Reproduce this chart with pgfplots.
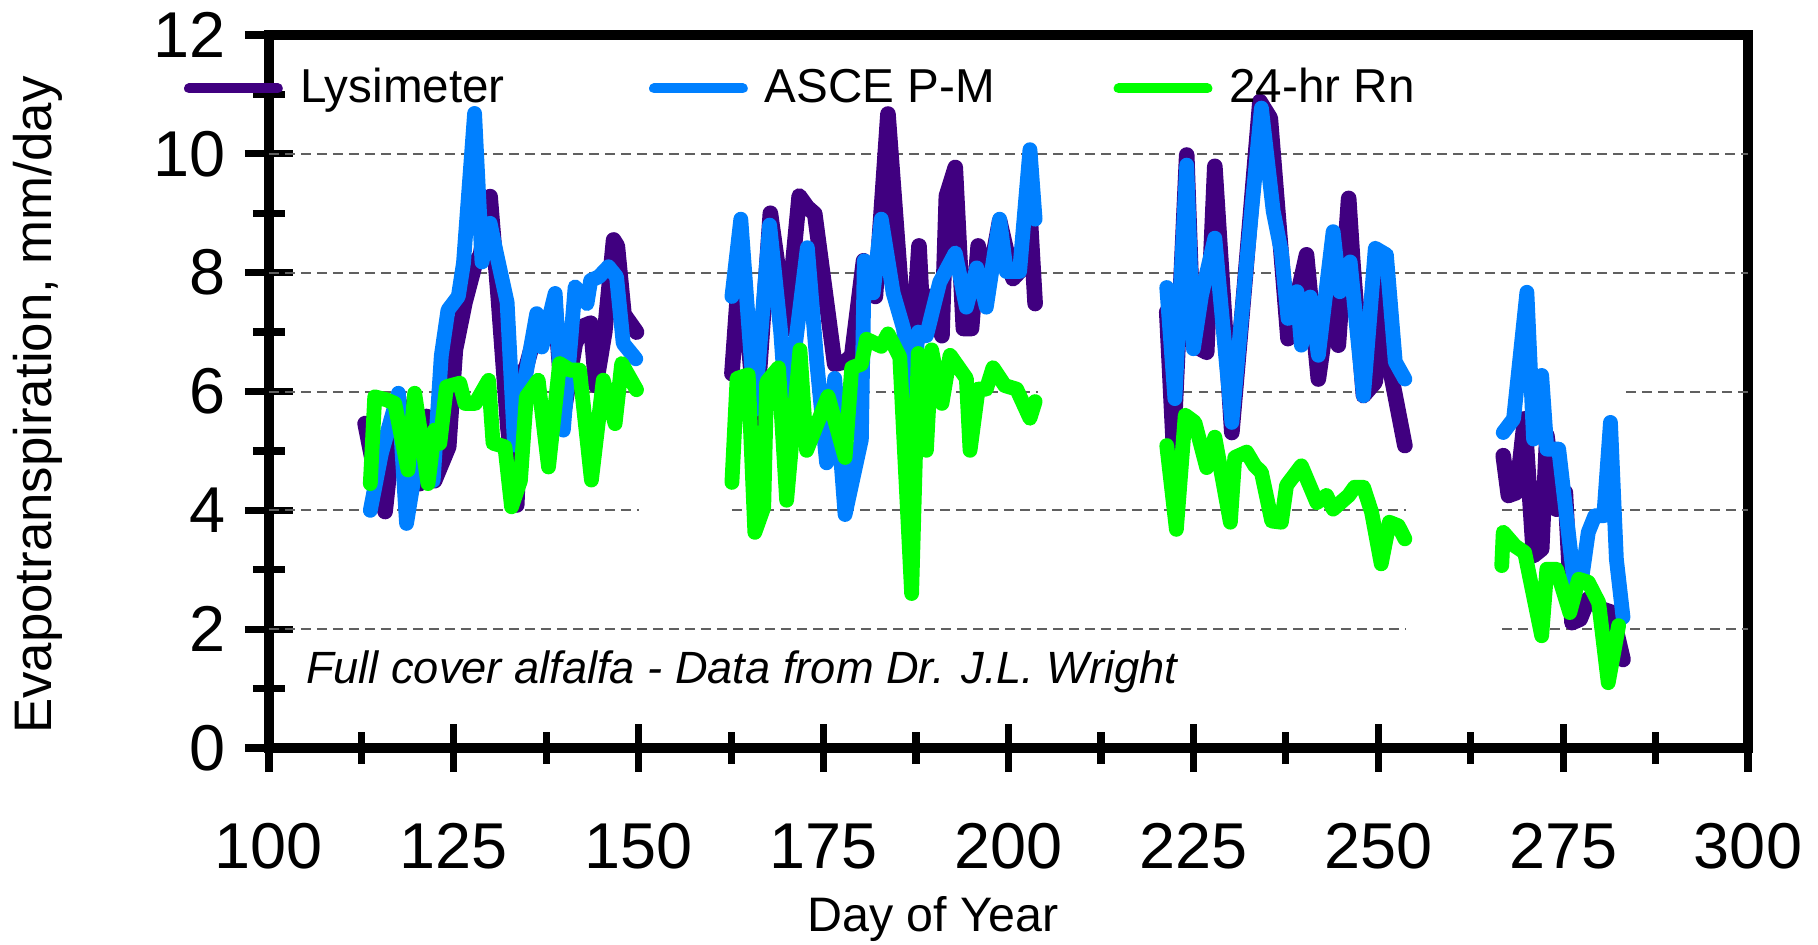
\documentclass[border=0pt]{standalone}
\usepackage{pgfplots}
\pgfplotsset{compat=1.18}
\usepackage{fontspec}
\setmainfont{Liberation Sans}
\usetikzlibrary{calc}
\definecolor{lysi}{RGB}{64,0,128}
\definecolor{asce}{RGB}{0,128,255}
\definecolor{rn}{RGB}{0,255,0}
\tikzset{gridl/.style={gray!75!black, line width=0.5pt, dash pattern=on 2.4pt off 1.6pt}}

\begin{document}
\begin{tikzpicture}
\begin{axis}[
  name=ax,
  scale only axis,
  width=369.75pt, height=178.25pt,
  xmin=100, xmax=300, ymin=0, ymax=12,
  xtick={100,125,...,300}, ytick={0,2,...,12},
  minor x tick num=1, minor y tick num=1,
  tick align=center, tick pos=left,
  major tick length=12pt, minor tick length=8pt,
  tick style={black, line width=1.8pt},
  axis line style={line width=2.5pt},
  /pgf/number format/assume math mode=true,
  ticklabel style={font=\fontsize{16.2}{19}\selectfont, inner sep=0pt},
  xticklabel style={anchor=base, yshift=-24pt},
  yticklabel style={anchor=east, xshift=-4.6pt},
  xlabel={Day of Year}, ylabel={Evapotranspiration, mm/day},
  every axis x label/.style={at={(axis description cs:0.449,-0.2567)}, anchor=base, font=\fontsize{12.1}{14}\selectfont},
  every axis y label/.style={at={(axis description cs:-0.147,0.481)}, anchor=base, rotate=90, font=\fontsize{13.2}{15}\selectfont},
  unbounded coords=jump,
  legend columns=3,
  legend style={at={(axis description cs:-0.058,0.925)}, anchor=west, draw=none, fill=none,
    inner sep=0pt, column sep=0pt, font=\fontsize{11.9}{14}\selectfont, nodes={inner sep=0pt}},
  legend cell align=left,
  legend image code/.code={\draw[#1, line width=2.5pt, line cap=round] (0pt,0pt) -- (22.2pt,0pt); \path (24.5pt,0pt);},
]

% Gitterlinien (in den Luecken teils unterbrochen)
\addplot[gridl, forget plot] coordinates {(100,10) (300,10)};
\addplot[gridl, forget plot] coordinates {(100,8) (300,8)};
\addplot[gridl, forget plot] coordinates {(100,6) (150,6) (150,nan) (162.6,6) (204,6) (204,nan) (221.4,6) (253.8,6) (253.8,nan) (283.5,6) (300,6)};
\addplot[gridl, forget plot] coordinates {(100,4) (150,4) (150,nan) (162.6,4) (253.8,4) (253.8,nan) (266.8,4) (300,4)};
\addplot[gridl, forget plot] coordinates {(100,2) (253.8,2) (253.8,nan) (266.8,2) (300,2)};

% Lysimeter
\addplot[lysi, line width=3.9pt, line join=round, line cap=round] coordinates {
(113.0,5.46) (114.2,4.7) (115.7,3.98) (116.6,5.02) (117.5,5.9) (118.6,5.0) (119.5,5.5)
(120.4,4.45) (121.3,5.58) (122.4,4.5) (123.4,4.8) (124.3,5.07) (125.2,6.7) (126.5,7.5)
(127.9,8.16) (128.6,8.3) (129.9,9.28) (131.0,7.6) (132.3,5.4) (133.5,4.09) (134.2,6.3)
(134.8,6.42) (136.5,7.2) (137.5,6.9) (138.7,7.4) (139.8,5.6) (141.4,6.8) (142.5,7.1)
(143.5,7.15) (144.2,6.1) (145.4,7.0) (146.6,8.55) (147.1,8.45) (148.0,7.3) (149.7,7.0)
(150,nan)
(162.6,6.3) (163.8,8.4) (165.8,5.4) (167.8,9.0) (170.0,7.06) (171.7,9.29) (172.8,9.1)
(173.8,8.99) (176.5,6.46) (177.9,6.5) (178.8,6.6) (180.4,8.2) (182.0,7.6) (183.7,10.67)
(184.6,9.17) (185.5,7.66) (186.7,6.16) (187.9,8.45) (188.5,6.94) (189.4,7.6) (191.0,6.94)
(191.6,9.29) (192.8,9.77) (193.9,7.06) (195.0,7.06) (195.9,8.45) (197.0,7.66) (198.8,8.87)
(200.6,7.9) (201.5,8.02) (202.9,8.99) (203.6,7.48)
(210,nan)
(221.4,7.34) (222.3,5.09) (224.1,9.98) (225.0,6.78) (226.8,6.66) (227.9,9.79) (230.2,5.31)
(232.0,7.9) (234.0,10.88) (235.4,10.6) (237.8,6.89) (239.2,7.68) (240.3,8.3) (241.9,6.21)
(243.5,7.62) (244.6,6.78) (246.0,9.25) (246.6,8.1) (248.0,5.93) (249.6,6.16) (250.5,7.9)
(251.4,6.5) (253.6,5.09)
(260,nan)
(266.9,4.92) (267.6,4.25) (268.7,4.3) (269.8,5.54) (271.0,3.24) (272.1,3.35) (272.8,5.26)
(274.1,4.02) (275.3,4.3) (276.2,2.11) (277.3,2.17) (278.4,2.51) (280.2,2.34) (281.6,2.28)
(283.1,1.49)
};
\addlegendentry{\hspace{1.35pt}\makebox[87.2pt][l]{Lysimeter}}

% ASCE P-M
\addplot[asce, line width=3.7pt, line join=round, line cap=round] coordinates {
(113.7,4.0) (115.2,4.96) (117.5,5.97) (118.6,3.78) (120.2,5.0) (121.2,4.6) (122.2,4.5)
(123.3,6.6) (124.2,7.37) (125.6,7.6) (126.3,8.16) (127.8,10.68) (128.8,8.18) (129.9,8.83)
(130.8,8.3) (132.2,7.5) (133.2,5.1) (134.6,6.19) (136.2,7.31) (136.9,6.75) (138.7,7.65)
(139.8,5.35) (141.4,7.76) (143.0,7.48) (143.5,7.87) (144.6,7.93) (145.9,8.1) (147.0,7.93)
(147.9,6.81) (149.6,6.55)
(150,nan)
(162.6,7.6) (163.8,8.9) (165.7,5.7) (167.7,8.8) (169.2,7.0) (170.0,5.6) (172.8,8.42)
(174.1,6.46) (175.4,4.8) (176.5,6.22) (177.9,3.93) (180.1,5.19) (180.5,8.2) (181.7,7.66)
(182.8,8.9) (184.4,7.66) (185.8,7.06) (186.9,5.86) (187.8,7.0) (188.9,6.94) (190.7,7.84)
(192.8,8.33) (194.3,7.42) (195.7,8.08) (197.0,7.42) (198.8,8.9) (199.7,8.02) (201.5,8.02)
(202.9,10.07) (203.6,8.9)
(210,nan)
(221.4,7.75) (222.5,5.88) (224.1,9.81) (225.0,6.72) (226.1,7.62) (227.9,8.58) (230.2,5.48)
(232.0,7.9) (234.2,10.77) (235.8,9.03) (236.9,8.35) (237.8,7.23) (239.0,7.68) (239.6,6.78)
(240.8,7.59) (241.9,6.61) (243.9,8.69) (244.8,7.68) (246.2,8.18) (248.0,5.93) (249.6,8.41)
(251.1,8.3) (252.3,6.5) (253.6,6.21)
(260,nan)
(266.9,5.31) (268.3,5.54) (270.1,7.67) (271.0,5.2) (272.1,6.27) (272.8,5.03) (274.4,5.03)
(276.6,2.67) (277.5,2.84) (278.4,3.63) (279.3,3.91) (280.5,3.91) (281.4,5.48) (282.2,3.18)
(283.1,2.2)
};
\addlegendentry{\hspace{1.35pt}\makebox[87.2pt][l]{ASCE P-M}}

% 24-hr Rn
\addplot[rn, line width=3.7pt, line join=round, line cap=round] coordinates {
(113.7,4.45) (114.3,5.91) (115.9,5.86) (117.0,5.8) (118.8,4.68) (119.7,5.97) (121.5,4.45)
(122.4,5.35) (123.1,5.13) (124.0,6.08) (125.8,6.14) (126.5,5.8) (127.9,5.8) (129.7,6.19)
(130.3,5.13) (131.9,5.07) (132.8,4.06) (134.0,4.5) (134.8,5.91) (136.4,6.19) (137.8,4.73)
(139.3,6.47) (140.7,6.36) (142.0,6.36) (143.6,4.51) (145.2,6.19) (146.8,5.46) (147.7,6.47)
(149.7,6.03)
(150,nan)
(162.6,4.47) (163.3,6.22) (164.8,6.28) (165.7,3.63) (166.9,4.05) (167.3,6.16) (168.9,6.4)
(170.0,4.17) (171.8,6.7) (172.7,5.01) (175.6,5.92) (177.9,4.89) (178.8,6.4) (180.1,6.46)
(180.8,6.88) (182.8,6.76) (183.7,6.97) (185.3,6.58) (186.9,2.6) (187.8,6.64) (188.9,5.01)
(189.6,6.7) (191.0,5.8) (192.1,6.61) (194.3,6.22) (194.8,5.01) (195.9,6.04) (197.0,6.04)
(197.9,6.4) (199.5,6.1) (201.1,6.04) (202.9,5.55) (203.6,5.83)
(210,nan)
(221.4,5.09) (222.7,3.68) (223.9,5.6) (225.2,5.48) (226.8,4.72) (227.9,5.23) (230.0,3.8)
(230.6,4.89) (232.2,4.98) (233.3,4.75) (234.2,4.64) (235.6,3.82) (236.9,3.8) (237.6,4.42)
(239.6,4.75) (241.7,4.13) (243.0,4.25) (243.9,4.02) (246.0,4.25) (246.8,4.39) (248.0,4.39)
(249.1,3.97) (250.4,3.1) (251.5,3.8) (252.7,3.74) (253.6,3.52)
(260,nan)
(266.7,3.07) (266.9,3.63) (268.5,3.4) (269.8,3.29) (272.1,1.89) (272.8,3.01) (274.1,3.01)
(275.9,2.28) (277.1,2.84) (278.4,2.79) (279.8,2.45) (281.1,1.1) (282.5,2.06)
};
\addlegendentry{\hspace{1.35pt}\makebox[87.2pt][l]{24-hr Rn}}

\node[anchor=base west, inner sep=0pt, font=\itshape\fontsize{11.3}{13}\selectfont]
  at (axis cs:104.9,1.08) {Full cover alfalfa - Data from Dr. J.L. Wright};
\end{axis}
\pgfresetboundingbox
\path ($(ax.south west)+(-67.25pt,-49pt)$) rectangle ($(ax.north east)+(17.5pt,8.75pt)$);
\end{tikzpicture}
\end{document}
